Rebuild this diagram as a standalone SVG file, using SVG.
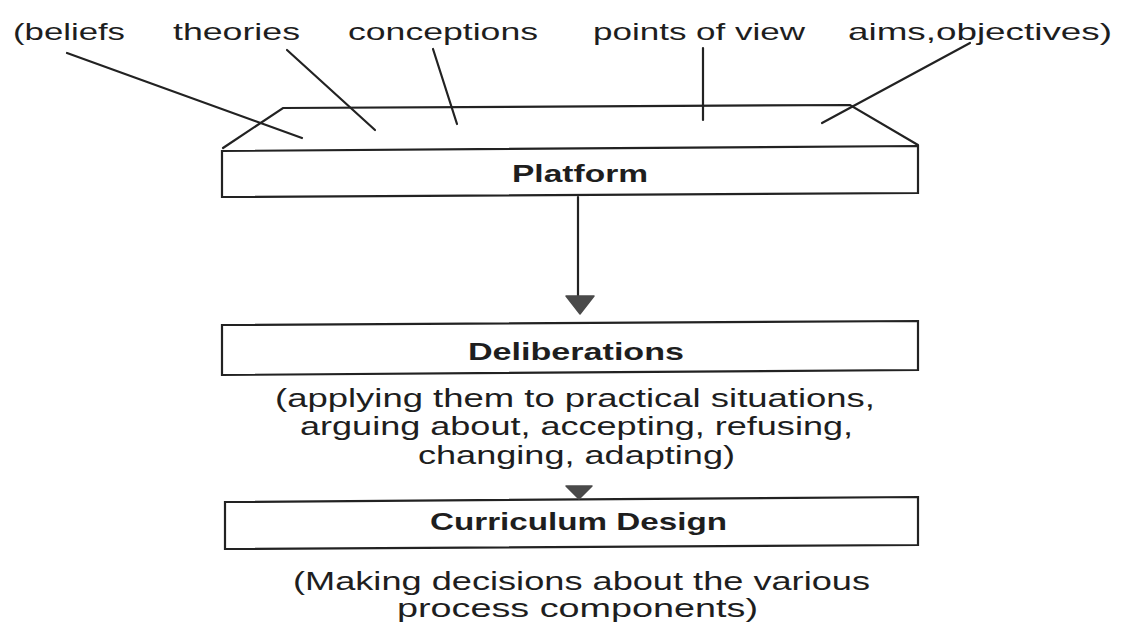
<svg xmlns="http://www.w3.org/2000/svg" width="1121" height="625" viewBox="0 0 1121 625">
<style>
.bg{fill:#ffffff}
.lbl{font-family:"Liberation Sans",Arial,sans-serif;font-size:24px;fill:#1e1e1e}
.par{font-family:"Liberation Sans",Arial,sans-serif;font-size:25px;fill:#1e1e1e}
.ttl{font-family:"Liberation Sans",Arial,sans-serif;font-size:24px;font-weight:bold;fill:#1e1e1e}
.box{fill:#ffffff;stroke:#222;stroke-width:2.2}
.ln{fill:none;stroke:#222;stroke-width:2.2;stroke-linecap:round}
.head{fill:#4a4a4a;stroke:#4a4a4a;stroke-width:1.5;stroke-linejoin:round}
</style>
<rect class="bg" x="0" y="0" width="1121" height="625"/>
<g id="labels">
<text class="lbl" x="13" y="40" textLength="112" lengthAdjust="spacingAndGlyphs">(beliefs</text>
<text class="lbl" x="173" y="40" textLength="127" lengthAdjust="spacingAndGlyphs">theories</text>
<text class="lbl" x="348" y="40" textLength="190" lengthAdjust="spacingAndGlyphs">conceptions</text>
<text class="lbl" x="593" y="40" textLength="212" lengthAdjust="spacingAndGlyphs">points of view</text>
<text class="lbl" x="848" y="40" textLength="264" lengthAdjust="spacingAndGlyphs">aims,objectives)</text>
</g>
<g id="platform">
<path class="ln" d="M223,148 L283,108 L850,105 L918,145"/>
<path class="box" d="M222,151 L918,146 L918,193 L222,197 Z"/>
<text class="ttl" x="512" y="182" textLength="136" lengthAdjust="spacingAndGlyphs">Platform</text>
</g>
<g id="deliberations">
<path class="box" d="M222,325 L918,321 L918,370 L222,375 Z"/>
<text class="ttl" x="468" y="360" textLength="216" lengthAdjust="spacingAndGlyphs">Deliberations</text>
<text class="par" x="275" y="407" textLength="600" lengthAdjust="spacingAndGlyphs">(applying them to practical situations,</text>
<text class="par" x="300" y="435" textLength="553" lengthAdjust="spacingAndGlyphs">arguing about, accepting, refusing,</text>
<text class="par" x="418" y="464" textLength="317" lengthAdjust="spacingAndGlyphs">changing, adapting)</text>
</g>
<g id="curriculum">
<path class="box" d="M225,502 L918,497 L918,545 L225,549 Z"/>
<text class="ttl" x="430" y="530" textLength="297" lengthAdjust="spacingAndGlyphs">Curriculum Design</text>
<text class="par" x="293" y="590" textLength="577" lengthAdjust="spacingAndGlyphs">(Making decisions about the various</text>
<text class="par" x="397" y="617" textLength="361" lengthAdjust="spacingAndGlyphs">process components)</text>
</g>
<g id="connectors">
<line class="ln" x1="67" y1="53" x2="302" y2="138"/>
<line class="ln" x1="287" y1="50" x2="375" y2="130"/>
<line class="ln" x1="433" y1="49" x2="457" y2="124"/>
<line class="ln" x1="703" y1="48" x2="703" y2="120"/>
<line class="ln" x1="970" y1="43" x2="822" y2="123"/>
<line class="ln" x1="578" y1="197" x2="578" y2="296"/>
<path class="head" d="M566,296 L594,296 L580,314 Z"/>
<path class="head" d="M566,486 L592,486 L579,499 Z"/>
</g>
</svg>
